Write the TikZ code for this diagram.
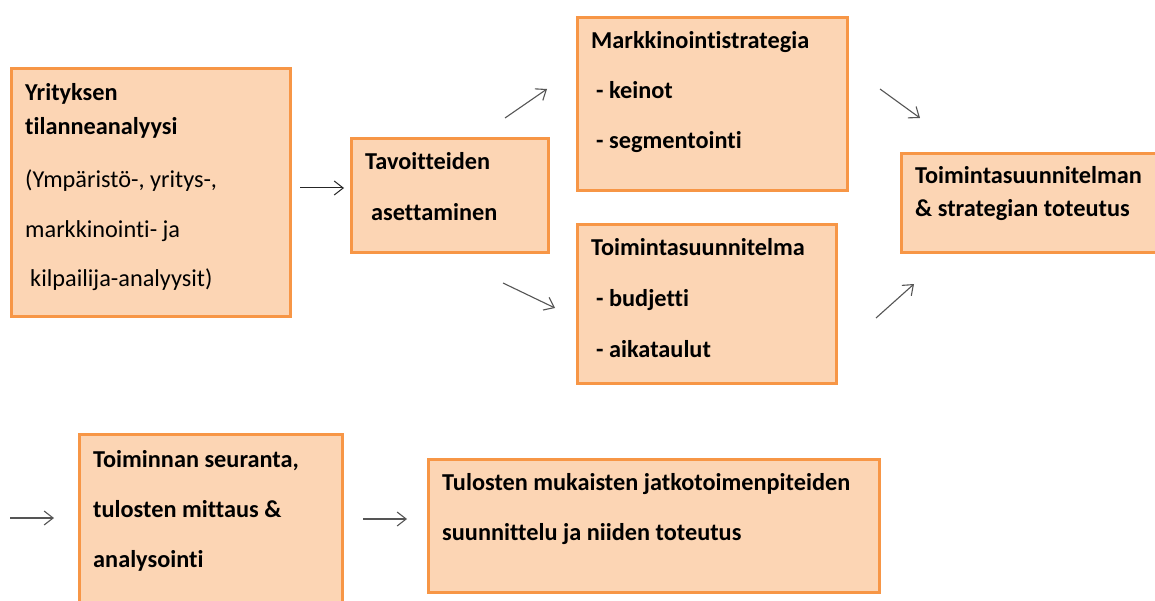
\documentclass[tikz,border=0pt]{standalone}
\usepackage{fontspec}
\setmainfont[Ligatures=NoCommon]{Carlito}
\usetikzlibrary{arrows.meta}
\definecolor{boxfill}{HTML}{FCD5B4}
\definecolor{boxline}{HTML}{F79646}
\definecolor{arrgray}{HTML}{555555}
\begin{document}
\begin{tikzpicture}[x=1pt,y=-1pt,
  box/.style={draw=boxline,fill=boxfill,line width=3pt},
  lbl/.style={anchor=base west,inner sep=0pt,font=\fontsize{24.3}{27}\selectfont\bfseries},
  lblr/.style={anchor=base west,inner sep=0pt,font=\fontsize{24.3}{27}\selectfont},
  arr/.style={-{Straight Barb[length=9pt,width=14pt]},line width=1.1pt,draw=arrgray},
  harr/.style={-{Straight Barb[length=9pt,width=14pt]},line width=1pt,draw=black!85}]
\clip (0,0) rectangle (1155,601);
\fill[white] (0,0) rectangle (1155,601);
% boxes
\draw[box] (11.5,68.5) rectangle (290.5,316.5);
\draw[box] (351.5,138.5) rectangle (548.5,252.5);
\draw[box] (577.5,17.5) rectangle (847.5,190.5);
\draw[box] (577.5,224.5) rectangle (836.5,383.5);
\draw[box] (901.5,153.5) rectangle (1165,252.5);
\draw[box] (79.5,434.5) rectangle (342.5,620);
\draw[box] (428.5,459.5) rectangle (879.5,592.5);
% texts
\node[lbl] (t1a) at (25,101) {Yrityksen};
\node[lbl] (t1b) at (25,135) {tilanneanalyysi};
\node[lblr] (t1c) at (25,188) {(Ympäristö-, yritys-,};
\node[lblr] (t1d) at (25,238) {markkinointi- ja};
\node[lblr] (t1e) at (30,287) {kilpailija-analyysit)};
\node[lbl] (t2a) at (365,170) {Tavoitteiden};
\node[lbl] (t2b) at (371,221) {asettaminen};
\node[lbl] (t3a) at (591,49) {Markkinointistrategia};
\node[lbl] (t3b) at (596,99) {- keinot};
\node[lbl] (t3c) at (596,149) {- segmentointi};
\node[lbl] (t4a) at (591,256) {Toimintasuunnitelma};
\node[lbl] (t4b) at (596,306) {- budjetti};
\node[lbl] (t4c) at (596,357) {- aikataulut};
\node[lbl] (t5a) at (915,184) {Toimintasuunnitelman};
\node[lbl] (t5b) at (915,217) {\& strategian toteutus};
\node[lbl] (t6a) at (93,467) {Toiminnan seuranta,};
\node[lbl] (t6b) at (93,517) {tulosten mittaus \&};
\node[lbl] (t6c) at (93,567) {analysointi};
\node[lbl] (t7a) at (442,490) {Tulosten mukaisten jatkotoimenpiteiden};
\node[lbl] (t7b) at (442,540) {suunnittelu ja niiden toteutus};
% arrow end points
\coordinate (a1s) at (300,188); \coordinate (a1e) at (344,188);
\coordinate (a2s) at (505,118); \coordinate (a2e) at (547,89);
\coordinate (a3s) at (503,283); \coordinate (a3e) at (555,308);
\coordinate (a4s) at (880,89);  \coordinate (a4e) at (920,118);
\coordinate (a5s) at (876,318); \coordinate (a5e) at (914,284);
\coordinate (a6s) at (10,518);  \coordinate (a6e) at (54,518);
\coordinate (a7s) at (363,519); \coordinate (a7e) at (407,519);
\draw[harr] (a1s) -- (a1e);
\draw[arr] (a2s) -- (a2e);
\draw[arr] (a3s) -- (a3e);
\draw[arr] (a4s) -- (a4e);
\draw[arr] (a5s) -- (a5e);
\draw[arr] (a6s) -- (a6e);
\draw[arr] (a7s) -- (a7e);
\end{tikzpicture}
\end{document}
